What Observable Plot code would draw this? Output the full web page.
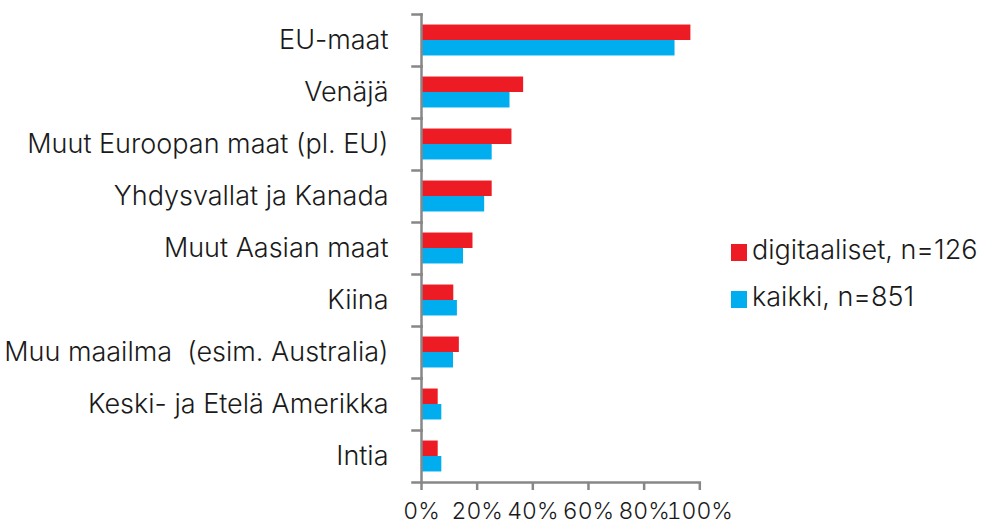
<!DOCTYPE html>
<html>
<head>
<meta charset="utf-8">
<script src="https://cdn.jsdelivr.net/npm/d3@7"></script>
<script src="https://cdn.jsdelivr.net/npm/@observablehq/plot@0.6"></script>
<style>
  html, body { margin: 0; padding: 0; background: #fff; }
  #wrap { position: relative; width: 982px; height: 526px; font-family: Inter, "Liberation Sans", Arial, sans-serif; font-weight: 300; color: #1a1a1a; }
  #legend { position: absolute; left: 731px; top: 226px; font-size: 27px; line-height: 47px; }
  .item { display: flex; align-items: center; white-space: nowrap; }
  .sw { width: 16px; height: 17px; margin-right: 5px; margin-top: 6px; }
</style>
</head>
<body>
<div id="wrap"><div id="legend"></div></div>
<script>
const categories = [
  "EU-maat",
  "Venäjä",
  "Muut Euroopan maat (pl. EU)",
  "Yhdysvallat ja Kanada",
  "Muut Aasian maat",
  "Kiina",
  "Muu maailma  (esim. Australia)",
  "Keski- ja Etelä Amerikka",
  "Intia"
];
const seriesNames = ["digitaaliset, n=126", "kaikki, n=851"];
const seriesColors = ["#ED1C24", "#00AEEF"];
const digitaaliset = [96.8, 36.7, 32.5, 25.4, 18.5, 11.6, 13.6, 6.0, 6.0];
const kaikki = [91.1, 31.8, 25.4, 22.7, 15.1, 12.9, 11.5, 7.3, 7.3];
const xTicks = [0, 20, 40, 60, 80, 100];

const rows = [];
categories.forEach((c, i) => {
  rows.push({category: c, series: seriesNames[0], value: digitaaliset[i]});
  rows.push({category: c, series: seriesNames[1], value: kaikki[i]});
});

const W = 982, H = 526, ML = 421, MR = 282.7, MT = 14, MB = 44;
const plotW = W - ML - MR;
const axisColor = "#878787";

const chart = Plot.plot({
  width: W,
  height: H,
  marginLeft: ML,
  marginRight: MR,
  marginTop: MT,
  marginBottom: MB,
  style: {fontFamily: "Inter, 'Liberation Sans', Arial, sans-serif", fontWeight: 300, color: "#1a1a1a", background: "transparent"},
  x: {domain: [0, 100]},
  y: {domain: seriesNames, paddingInner: 0, paddingOuter: 0.68, round: false, axis: null},
  fy: {domain: categories, padding: 0, round: false},
  color: {domain: seriesNames, range: seriesColors},
  marks: [
    Plot.barX(rows, {x: "value", y: "series", fy: "category", fill: "series"}),
    Plot.frame({anchor: "left", stroke: axisColor, strokeWidth: 2.5}),
    Plot.frame({anchor: "top", stroke: axisColor, strokeWidth: 2.5, insetLeft: -9, insetRight: plotW}),
    Plot.frame({anchor: "bottom", stroke: axisColor, strokeWidth: 2.5, insetLeft: -9, facetAnchor: "bottom"}),
    Plot.axisFy({anchor: "left", label: null, tickSize: 0, tickPadding: 33, fontSize: 27, fill: "#1a1a1a"}),
    Plot.axisX({anchor: "bottom", ticks: xTicks, tickFormat: d => d + "%", tickSize: 8, tickPadding: 12,
      fontSize: 23, stroke: axisColor, strokeWidth: 2.5, fill: "#1a1a1a", label: null})
  ]
});
document.getElementById("wrap").prepend(chart);

const legend = document.getElementById("legend");
seriesNames.forEach((s, i) => {
  const it = document.createElement("div");
  it.className = "item";
  const sw = document.createElement("span");
  sw.className = "sw";
  sw.style.background = seriesColors[i];
  const t = document.createElement("span");
  t.textContent = s;
  it.appendChild(sw);
  it.appendChild(t);
  legend.appendChild(it);
});
</script>
</body>
</html>
